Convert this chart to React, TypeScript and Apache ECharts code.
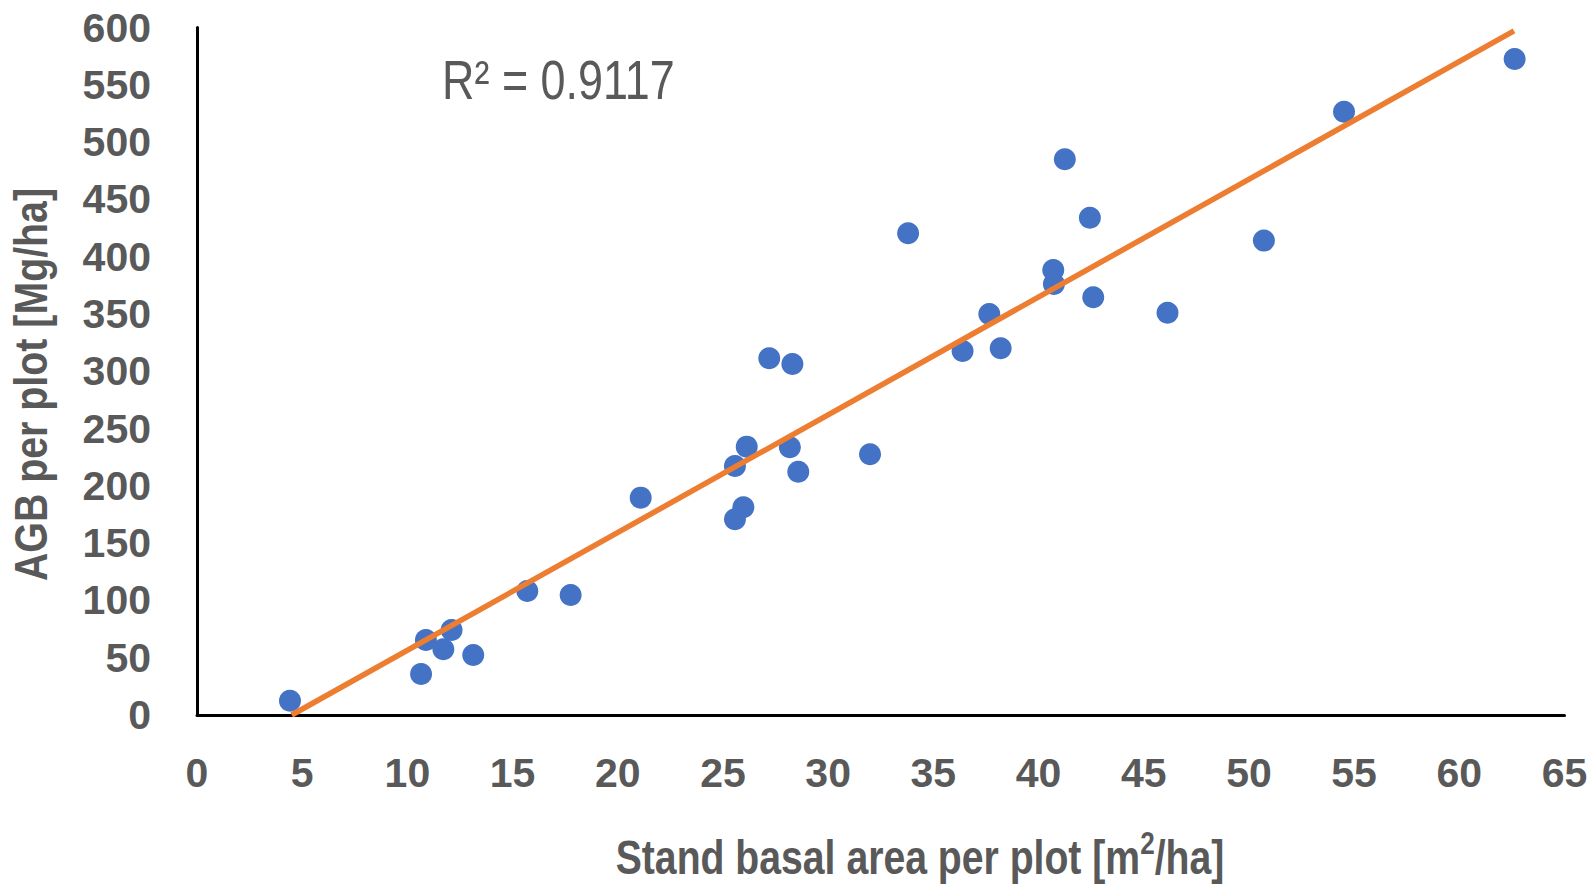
import React, { useEffect, useRef } from "react";
import * as echarts from "echarts";

const basalArea = [4.42, 10.65, 10.88, 11.71, 12.1, 13.13, 15.7, 17.76, 21.09, 25.57, 25.57, 25.97, 26.13, 27.2, 28.18, 28.3, 28.58, 31.99, 33.8, 36.39, 37.66, 38.2, 40.7, 40.73, 41.25, 42.44, 42.6, 46.13, 50.71, 54.52, 62.63];
const agb = [12.5, 35.8, 65.5, 57.3, 74.2, 52.4, 108.2, 104.7, 189.7, 217.3, 170.8, 181.3, 234.2, 311.3, 233.6, 306.3, 212.3, 227.5, 420.4, 317.7, 350, 320, 388.4, 376.2, 485, 434, 364.6, 351.1, 414, 526.5, 572.5];
const trendX = [4.5, 62.6];
const trendY = [0, 597];
const r2Label = "R\u00B2 = 0.9117";
const xTitle = "Stand basal area per plot [m";
const xTitleEnd = "/ha]";
const yTitle = "AGB per plot [Mg/ha]";

const FONT = "'Liberation Sans', Arial, sans-serif";
const GRAY = "#595959";

export default function App() {
  const ref = useRef<HTMLDivElement>(null);
  useEffect(() => {
    if (!ref.current) return;
    const chart = echarts.init(ref.current, null, { renderer: "svg" });
    const scatterData = basalArea.map((x, i) => [x, agb[i]]);
    const trendData = trendX.map((x, i) => [x, trendY[i]]);
    chart.setOption({
      animation: false,
      backgroundColor: "#ffffff",
      grid: { left: 197, top: 27.5, right: 30.5, bottom: 173, containLabel: false },
      xAxis: {
        type: "value",
        min: 0,
        max: 65,
        interval: 5,
        axisLine: { show: true, onZero: false, lineStyle: { color: "#000", width: 3 } },
        axisTick: { show: false },
        splitLine: { show: false },
        axisLabel: { margin: 37, fontFamily: FONT, fontWeight: "bold", fontSize: 41, color: GRAY },
      },
      yAxis: {
        type: "value",
        min: 0,
        max: 600,
        interval: 50,
        axisLine: { show: true, onZero: false, lineStyle: { color: "#000", width: 3 } },
        axisTick: { show: false },
        splitLine: { show: false },
        axisLabel: { margin: 46, fontFamily: FONT, fontWeight: "bold", fontSize: 41, color: GRAY },
      },
      series: [
        {
          type: "scatter",
          data: scatterData,
          symbol: "circle",
          symbolSize: 22,
          itemStyle: { color: "#4472C4", opacity: 1 },
          z: 2,
        },
        {
          type: "line",
          data: trendData,
          showSymbol: false,
          symbol: "none",
          lineStyle: { color: "#ED7D31", width: 5.5 },
          z: 3,
        },
      ],
      graphic: [
        {
          type: "text",
          x: 442,
          y: 53,
          scaleX: 0.817,
          style: { text: r2Label, font: `55px ${FONT}`, fill: GRAY, verticalAlign: "top" },
        },
        {
          type: "text",
          x: 920,
          y: 854,
          scaleX: 0.816,
          style: {
            text: `{a|${xTitle}}{s|2}{a|${xTitleEnd}}`,
            align: "center",
            verticalAlign: "middle",
            rich: {
              a: { fontFamily: FONT, fontWeight: "bold", fontSize: 48, fill: GRAY, lineHeight: 54, verticalAlign: "bottom" },
              s: { fontFamily: FONT, fontWeight: "bold", fontSize: 32, fill: GRAY, lineHeight: 54, verticalAlign: "top" },
            },
          },
        },
        {
          type: "text",
          x: 30.5,
          y: 384.5,
          rotation: Math.PI / 2,
          scaleX: 0.855,
          style: {
            text: yTitle,
            font: `bold 46px ${FONT}`,
            fill: GRAY,
            align: "center",
            verticalAlign: "middle",
          },
        },
      ],
    });
    return () => chart.dispose();
  }, []);
  return <div ref={ref} style={{ position: "absolute", left: 0, top: 0, width: 1595, height: 888 }} />;
}
